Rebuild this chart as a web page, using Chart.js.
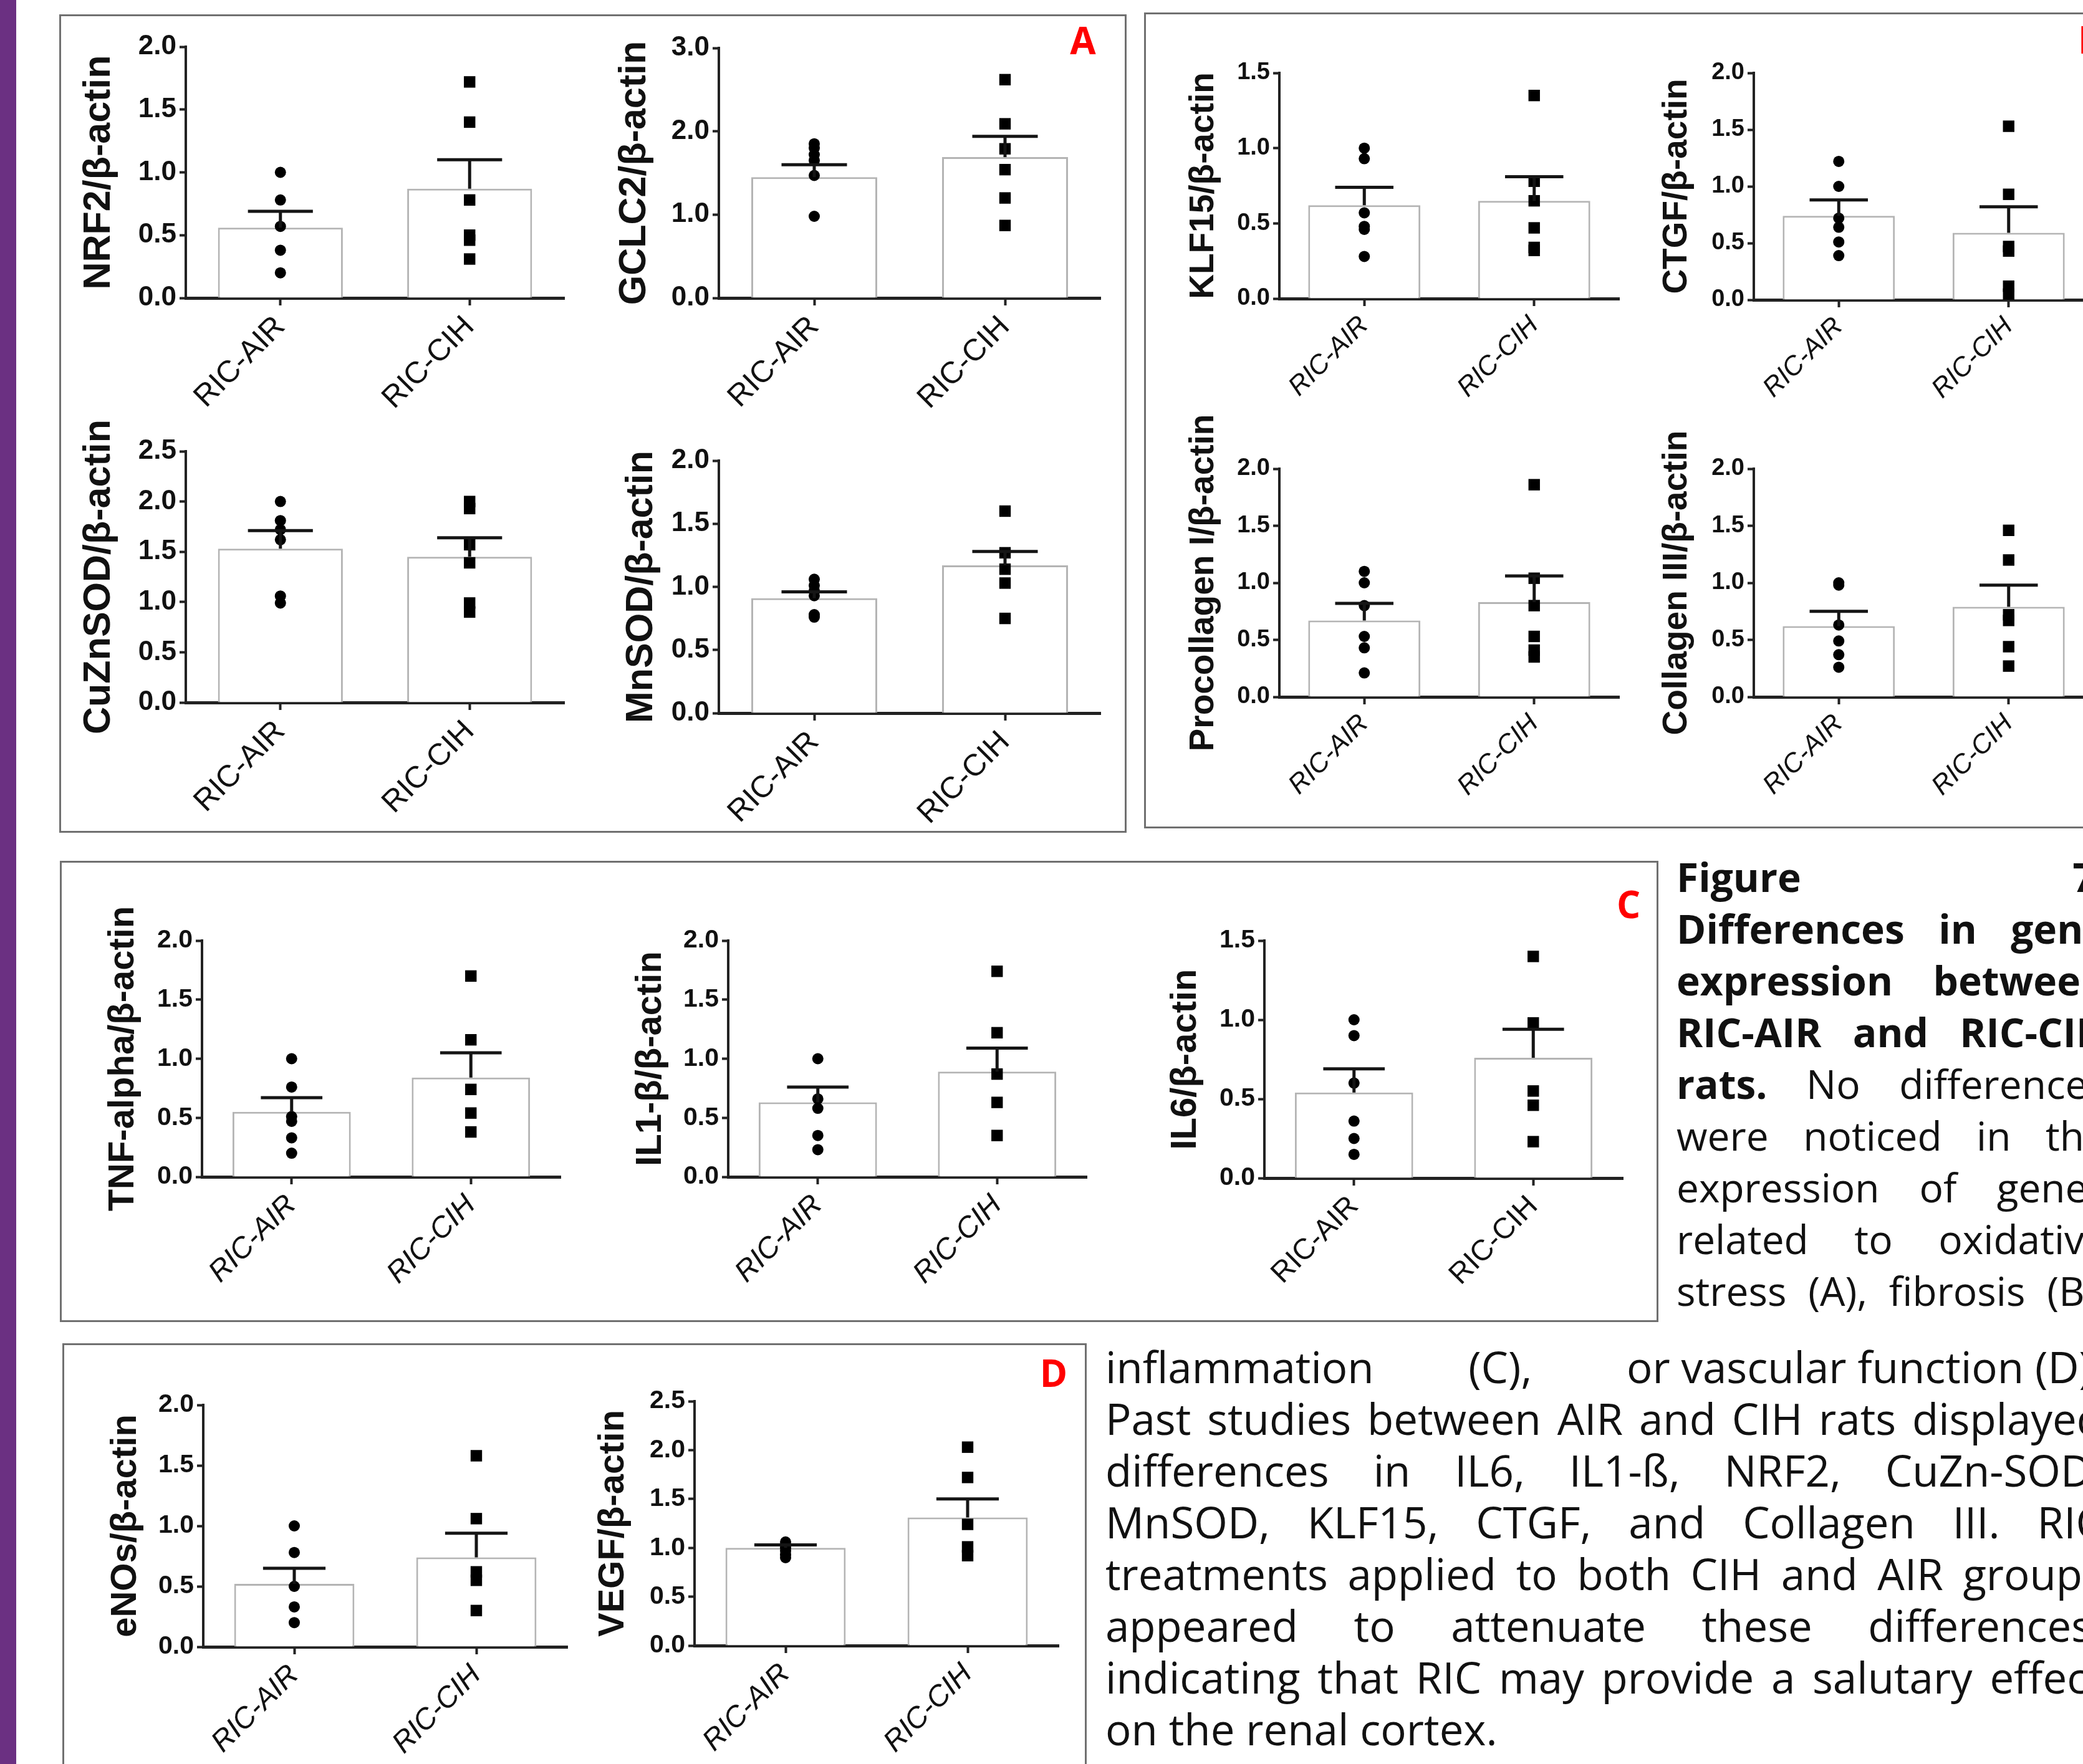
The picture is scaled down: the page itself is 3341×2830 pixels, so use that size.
<!DOCTYPE html>
<html>
<head>
<meta charset="utf-8">
<script src="https://cdn.jsdelivr.net/npm/chart.js@4.4.1/dist/chart.umd.min.js"></script>
<style>
html, body { margin: 0; padding: 0; background: #fff; }
body { width: 3341px; height: 2830px; position: relative; overflow: hidden; }
.strip { position: absolute; left: 0; top: 0; width: 26px; height: 2830px; background: #6b3082; }
.box { position: absolute; border: 3px solid #707070; box-sizing: border-box; }
.tag { position: absolute; font-family: "Open Sans"; font-weight: 700; color: #f00; font-size: 60px; line-height: 1; }
canvas { position: absolute; }
.ln { position: absolute; height: 83px; line-height: 83px; font-family: "Open Sans"; font-size: 64px; color: #111;
      display: flex; justify-content: space-between; white-space: pre; }
.ln.low { font-size: 69px; }
.ln.last { justify-content: flex-start; }
</style>
</head>
<body>
<div class="strip"></div>
<div class="box" style="left:95px;top:23px;width:1712px;height:1313px"></div>
<div class="box" style="left:1835px;top:20px;width:1600px;height:1309px"></div>
<div class="box" style="left:96px;top:1381px;width:2564px;height:740px"></div>
<div class="box" style="left:100px;top:2155px;width:1643px;height:800px"></div>
<div class="tag" style="left:1737px;top:64px;transform:translate(-50%,-50%)">A</div>
<div class="tag" style="left:3333px;top:63px;transform:translateY(-50%)">B</div>
<div class="tag" style="left:2612px;top:1450px;transform:translate(-50%,-50%)">C</div>
<div class="tag" style="left:1690px;top:2202px;transform:translate(-50%,-50%)">D</div>
<div id="charts"></div>
<div id="text"></div>
<script>
const groups = ['RIC-AIR', 'RIC-CIH'];
const titles = ['NRF2/β-actin', 'GCLC2/β-actin', 'CuZnSOD/β-actin', 'MnSOD/β-actin',
  'KLF15/β-actin', 'CTGF/β-actin', 'Procollagen I/β-actin', 'Collagen III/β-actin',
  'TNF-alpha/β-actin', 'IL1-β/β-actin', 'IL6/β-actin', 'eNOs/β-actin', 'VEGF/β-actin'];
const yMax = [2, 3, 2.5, 2, 1.5, 2, 2, 2, 2, 2, 1.5, 2, 2.5];
const yStep = [0.5, 1, 0.5, 0.5, 0.5, 0.5, 0.5, 0.5, 0.5, 0.5, 0.5, 0.5, 0.5];

// bar heights (mean) and SEM, [RIC-AIR, RIC-CIH]
const means = [[0.56, 0.87], [1.45, 1.69], [1.53, 1.45], [0.91, 1.17], [0.62, 0.65], [0.74, 0.59],
  [0.67, 0.83], [0.62, 0.79], [0.55, 0.84], [0.63, 0.89], [0.54, 0.76], [0.52, 0.74], [1.0, 1.31]];
const sems = [[0.13, 0.23], [0.15, 0.25], [0.18, 0.19], [0.05, 0.11], [0.12, 0.16], [0.14, 0.23],
  [0.15, 0.23], [0.13, 0.19], [0.12, 0.21], [0.13, 0.2], [0.15, 0.18], [0.13, 0.2], [0.03, 0.19]];

// individual animals
const airPts = [
  [1.0, 0.78, 0.57, 0.38, 0.2],
  [1.85, 1.8, 1.72, 1.65, 1.47, 0.98],
  [2.0, 1.81, 1.72, 1.62, 1.06, 0.99],
  [1.06, 1.01, 0.97, 0.93, 0.78, 0.76],
  [1.0, 0.93, 0.57, 0.48, 0.46, 0.28],
  [1.22, 1.0, 0.72, 0.64, 0.51, 0.39],
  [1.1, 1.0, 0.8, 0.53, 0.43, 0.21],
  [1.0, 0.98, 0.63, 0.49, 0.37, 0.26],
  [1.0, 0.76, 0.51, 0.47, 0.33, 0.2],
  [1.0, 0.66, 0.58, 0.35, 0.23],
  [1.0, 0.9, 0.6, 0.36, 0.25, 0.15],
  [1.0, 0.78, 0.5, 0.33, 0.2],
  [1.06, 1.03, 1.0, 0.97, 0.93, 0.9]
];
const cihPts = [
  [1.72, 1.4, 0.78, 0.5, 0.46, 0.31],
  [2.62, 2.09, 1.79, 1.54, 1.2, 0.87],
  [2.0, 1.93, 1.57, 1.39, 0.99, 0.9],
  [1.6, 1.27, 1.14, 1.03, 0.75],
  [1.35, 0.78, 0.65, 0.47, 0.34, 0.32],
  [1.53, 0.93, 0.47, 0.43, 0.12, 0.05],
  [1.86, 1.04, 0.8, 0.53, 0.41, 0.35],
  [1.46, 1.2, 0.72, 0.67, 0.44, 0.27],
  [1.7, 1.16, 0.74, 0.54, 0.38],
  [1.74, 1.22, 0.87, 0.63, 0.35],
  [1.4, 0.98, 0.55, 0.46, 0.23],
  [1.58, 1.06, 0.62, 0.55, 0.3],
  [2.03, 1.72, 1.24, 1.01, 0.92]
];

// placement, measured on the 1568 wide preview: y-axis x, top tick y, zero y, x-axis end, title offset
const S = 3341 / 1568;
const layout = [
  [140, 35, 224, 425, 65], [541, 36, 224, 828, 63], [140, 340, 529, 425, 65], [541, 347, 537, 828, 58],
  [963, 55, 225, 1219, 57], [1320, 55, 226, 1576, 58], [963, 353, 525, 1219, 57], [1320, 353, 525, 1576, 58],
  [152, 708, 886, 422, 59], [548, 708, 886, 818, 58], [952, 708, 887, 1222, 59],
  [153, 1058, 1240, 427, 58], [523, 1055, 1239, 797, 61]
];
const panelOf = ['A', 'A', 'A', 'A', 'B', 'B', 'B', 'B', 'C', 'C', 'C', 'D', 'D'];
const italicX = [0, 0, 0, 0, 1, 1, 1, 1, 1, 1, 0, 1, 1];
const fonts = {
  A: { tick: 44, title: 61, lab: 49 },
  B: { tick: 38, title: 55, lab: 43 },
  C: { tick: 41, title: 58, lab: 47 },
  D: { tick: 41, title: 58, lab: 47 }
};

const semBars = {
  id: 'semBars',
  afterDatasetsDraw(chart, args, opts) {
    const ctx = chart.ctx;
    const y = chart.scales.y;
    const meta = chart.getDatasetMeta(0);
    ctx.save();
    ctx.strokeStyle = '#151515';
    ctx.lineWidth = 5;
    meta.data.forEach((bar, i) => {
      const y0 = y.getPixelForValue(opts.mean[i]);
      const y1 = y.getPixelForValue(opts.mean[i] + opts.sem[i]);
      const half = bar.width * 0.26;
      ctx.beginPath();
      ctx.moveTo(bar.x, y0);
      ctx.lineTo(bar.x, y1);
      ctx.moveTo(bar.x - half, y1);
      ctx.lineTo(bar.x + half, y1);
      ctx.stroke();
    });
    ctx.restore();
  }
};

const holder = document.getElementById('charts');
const PT = 130, PR = 20, XH = 210;

titles.forEach((title, i) => {
  const [ax, top, zero, right, tdist] = layout[i];
  const f = fonts[panelOf[i]];
  const yw = Math.round(tdist * S + f.title / 2);
  const W = Math.round(yw + (right - ax) * S + PR);
  const H = Math.round(PT + (zero - top) * S + XH);
  const cv = document.createElement('canvas');
  cv.width = W;
  cv.height = H;
  cv.style.left = Math.round(ax * S - yw) + 'px';
  cv.style.top = Math.round(top * S - PT) + 'px';
  holder.appendChild(cv);

  new Chart(cv, {
    type: 'bar',
    data: {
      labels: groups,
      datasets: [{
        data: means[i],
        backgroundColor: '#ffffff',
        borderColor: '#b4b4b4',
        borderWidth: 3,
        barPercentage: 0.66,
        categoryPercentage: 1,
        order: 2
      }, {
        type: 'line',
        data: airPts[i].map(v => ({ x: groups[0], y: v })),
        showLine: false,
        pointStyle: 'circle',
        pointRadius: 9,
        pointBackgroundColor: '#000',
        pointBorderWidth: 0,
        order: 1
      }, {
        type: 'line',
        data: cihPts[i].map(v => ({ x: groups[1], y: v })),
        showLine: false,
        pointStyle: 'rect',
        pointRadius: 13,
        pointBackgroundColor: '#000',
        pointBorderWidth: 0,
        order: 1
      }]
    },
    options: {
      responsive: false,
      animation: false,
      events: [],
      layout: { padding: { top: PT, right: PR, left: 0, bottom: 0 } },
      plugins: {
        legend: { display: false },
        tooltip: { enabled: false },
        semBars: { mean: means[i], sem: sems[i] }
      },
      scales: {
        x: {
          z: 1,
          offset: true,
          grid: { offset: false, drawOnChartArea: false, tickLength: 12, tickWidth: 4, tickColor: '#222' },
          border: { display: true, color: '#222', width: 5 },
          ticks: {
            autoSkip: false, minRotation: 45, maxRotation: 45, padding: 6, color: '#111',
            font: { family: 'Liberation Sans', size: f.lab, style: italicX[i] ? 'italic' : 'normal' }
          },
          afterFit: s => { s.height = XH; }
        },
        y: {
          z: 1,
          min: 0,
          max: yMax[i],
          grid: { drawOnChartArea: false, tickLength: 10, tickWidth: 4, tickColor: '#222' },
          border: { display: true, color: '#222', width: 4 },
          ticks: {
            stepSize: yStep[i], padding: 5, color: '#111',
            font: { family: 'Liberation Sans', size: f.tick, weight: 'bold' },
            callback: v => Number(v).toFixed(1)
          },
          title: {
            display: true, text: title, padding: 0, color: '#111',
            font: { family: 'Liberation Sans', size: f.title, weight: 'bold', lineHeight: 1 }
          },
          afterFit: s => { s.width = yw; }
        }
      }
    },
    plugins: [semBars]
  });
});

// caption
const upperLines = [
  ['<b>Figure</b>', '<b>7.</b>'],
  ['<b>Differences</b>', '<b>in</b>', '<b>gene</b>'],
  ['<b>expression</b>', '<b>between</b>'],
  ['<b>RIC-AIR</b>', '<b>and</b>', '<b>RIC-CIH</b>'],
  ['<b>rats.</b>', 'No', 'differences'],
  ['were', 'noticed', 'in', 'the'],
  ['expression', 'of', 'genes'],
  ['related', 'to', 'oxidative'],
  ['stress', '(A),', 'fibrosis', '(B),']
];
const lowerLines = [
  ['inflammation', '(C),', 'or vascular function (D).'],
  ['Past', 'studies', 'between', 'AIR', 'and', 'CIH', 'rats', 'displayed'],
  ['differences', 'in', 'IL6,', 'IL1-ß,', 'NRF2,', 'CuZn-SOD,'],
  ['MnSOD,', 'KLF15,', 'CTGF,', 'and', 'Collagen', 'III.', 'RIC'],
  ['treatments', 'applied', 'to', 'both', 'CIH', 'and', 'AIR', 'groups'],
  ['appeared', 'to', 'attenuate', 'these', 'differences,'],
  ['indicating', 'that', 'RIC', 'may', 'provide', 'a', 'salutary', 'effect'],
  ['on the renal cortex.']
];
const txt = document.getElementById('text');
function addLines(lines, left, width, firstCenter, step, cls) {
  lines.forEach((words, k) => {
    const d = document.createElement('div');
    d.className = 'ln ' + cls + (words.length === 1 ? ' last' : '');
    d.style.left = left + 'px';
    d.style.width = width + 'px';
    d.style.top = Math.round(firstCenter + k * step - 41.5) + 'px';
    d.innerHTML = words.map(w => '<span>' + w + '</span>').join('');
    txt.appendChild(d);
  });
}
addLines(upperLines, 2689, 690, 1406, 83, 'up');
addLines(lowerLines, 1773, 1600, 2192, 83.1, 'low');
</script>
</body>
</html>
